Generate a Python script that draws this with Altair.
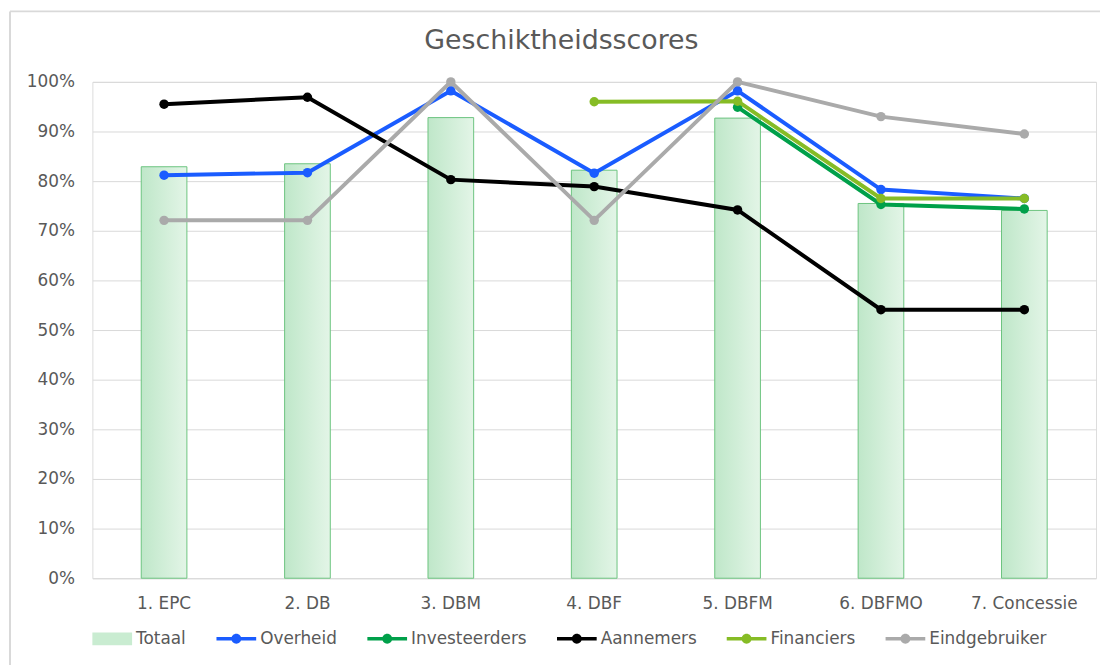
import altair as alt
import pandas as pd

categories = ["1. EPC", "2. DB", "3. DBM", "4. DBF", "5. DBFM", "6. DBFMO", "7. Concessie"]
totaal = [0.829, 0.835, 0.928, 0.822, 0.927, 0.755, 0.741]
overheid = [0.812, 0.817, 0.982, 0.816, 0.982, 0.783, 0.765]
investeerders = [None, None, None, None, 0.949, 0.753, 0.744]
aannemers = [0.955, 0.969, 0.803, 0.789, 0.742, 0.541, 0.541]
financiers = [None, None, None, 0.960, 0.961, 0.765, 0.765]
eindgebruiker = [0.721, 0.721, 1.0, 0.721, 1.0, 0.930, 0.895]

series_names = ["Overheid", "Investeerders", "Aannemers", "Financiers", "Eindgebruiker"]
series_values = [overheid, investeerders, aannemers, financiers, eindgebruiker]
series_colors = ["#1a5cff", "#00a04a", "#000000", "#86bc25", "#aaaaaa"]
legend_names = ["Totaal"] + series_names
legend_colors = ["#c9ecd1"] + series_colors
y_ticks = [0.0, 0.1, 0.2, 0.3, 0.4, 0.5, 0.6, 0.7, 0.8, 0.9, 1.0]

rect_path = "M-1,-0.32H1V0.32H-1Z"
line_path = "M-1,-0.09H1V0.09H-1Z M0.25,0 A0.25,0.25 0 1,1 -0.25,0 A0.25,0.25 0 1,1 0.25,0 Z"
legend_shapes = [rect_path] + [line_path] * len(series_names)

rows = []
for name, vals in zip(series_names, series_values):
    for c, v in zip(categories, vals):
        if v is not None:
            rows.append({"categorie": c, "reeks": name, "waarde": v})
lines_df = pd.DataFrame(rows)
bars_df = pd.DataFrame({"categorie": categories, "waarde": totaal})

FONT = "DejaVu Sans"
TXT = "#595959"

x_enc = alt.X(
    "categorie:N", sort=categories,
    scale=alt.Scale(paddingInner=0, paddingOuter=0),
    axis=alt.Axis(title=None, labelAngle=0, domain=False, ticks=False, tickSize=0,
                  labelPadding=17, labelFontSize=17, labelColor=TXT, labelFont=FONT, grid=False),
)
y_enc = alt.Y(
    "waarde:Q",
    scale=alt.Scale(domain=[0, 1], nice=False),
    axis=alt.Axis(values=y_ticks, format=".0%", title=None, domain=False, ticks=False, tickSize=0,
                  labelPadding=18, labelFontSize=17, labelColor=TXT, labelFont=FONT,
                  gridColor="#d9d9d9", gridWidth=1),
)

bar_fill = alt.Gradient(
    gradient="linear", x1=0, x2=1, y1=0, y2=0,
    stops=[alt.GradientStop(color="#bfe7c9", offset=0), alt.GradientStop(color="#e3f5e7", offset=1)],
)
bars = alt.Chart(bars_df).mark_bar(size=46, color=bar_fill, stroke="#6cc47f", strokeWidth=1).encode(
    x=x_enc, y=y_enc
)

layers = [bars]
for name, col in zip(series_names, series_colors):
    base = alt.Chart(lines_df).transform_filter(alt.datum.reeks == name)
    layers.append(base.mark_line(color=col, strokeWidth=4).encode(x=x_enc, y=y_enc))
    layers.append(base.mark_circle(color=col, size=90, opacity=1).encode(x=x_enc, y=y_enc))

leg = alt.Legend(
    title=None, orient="none", legendX=0, legendY=541, direction="horizontal", columns=6,
    symbolSize=1600, symbolStrokeWidth=0, symbolOpacity=1,
    labelFontSize=17, labelFont=FONT, labelColor=TXT, labelOffset=4, columnPadding=30, padding=0,
)
legend_layer = alt.Chart(lines_df).transform_filter("datum.reeks == 'geen'").mark_point(
    filled=True, opacity=1
).encode(
    color=alt.Color("reeks:N", scale=alt.Scale(domain=legend_names, range=legend_colors), legend=leg),
    shape=alt.Shape("reeks:N", scale=alt.Scale(domain=legend_names, range=legend_shapes), legend=leg),
)
layers.append(legend_layer)

frame_df = pd.DataFrame({"a": [0]})
frame_left = alt.Chart(frame_df).mark_rule(color="#d9d9d9", strokeWidth=2).encode(
    x=alt.value(-83), y=alt.value(-71), y2=alt.value(590)
)
frame_top = alt.Chart(frame_df).mark_rule(color="#d9d9d9", strokeWidth=2).encode(
    x=alt.value(-83), x2=alt.value(1015), y=alt.value(-71)
)
layers = [frame_left, frame_top] + layers

chart = alt.layer(*layers).properties(
    width=1011, height=500,
    title=alt.TitleParams("Geschiktheidsscores", fontSize=27, font=FONT, fontWeight="normal",
                          color=TXT, anchor="middle", dx=-33, offset=-66, baseline="alphabetic"),
    autosize=alt.AutoSizeParams(type="none"),
    padding={"left": 85, "top": 72, "right": 4, "bottom": 85},
).configure_view(stroke=None).configure(background="white")

chart.save("out.html", embed_options={"renderer": "svg", "actions": False})
